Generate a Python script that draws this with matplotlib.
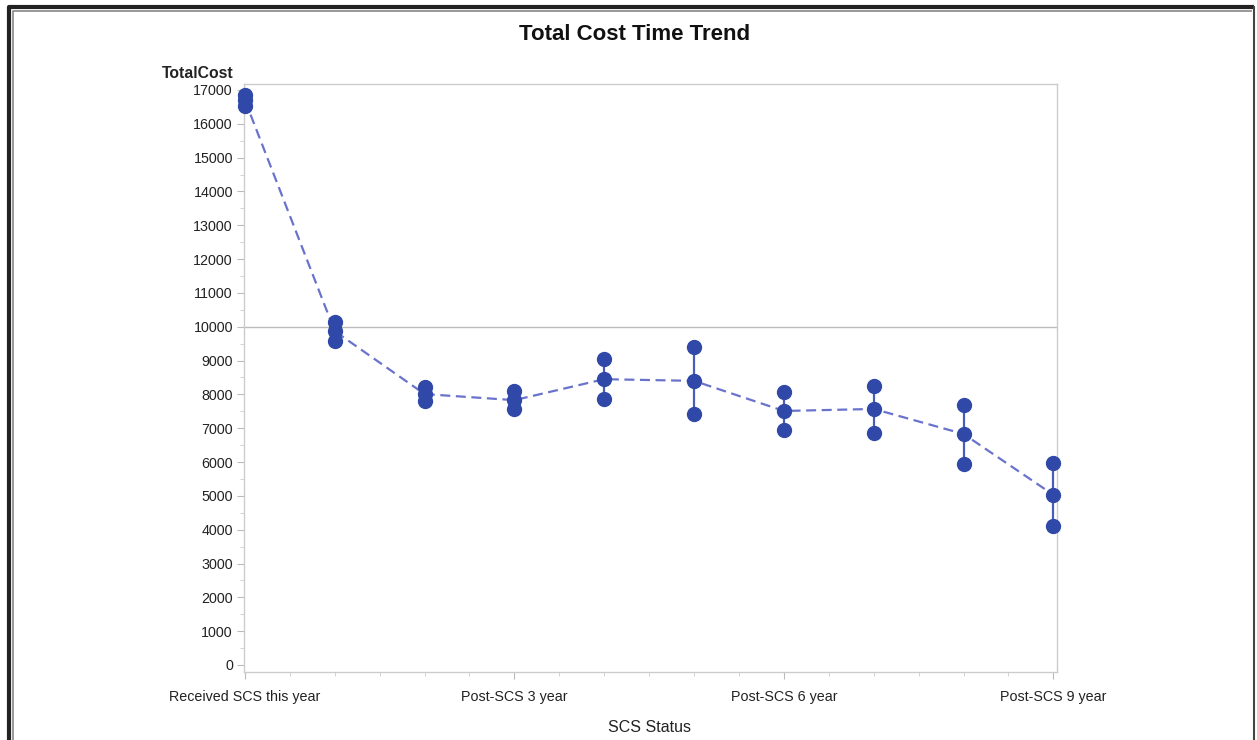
import numpy as np
import matplotlib
matplotlib.use("Agg")
import matplotlib.pyplot as plt
from matplotlib.ticker import MultipleLocator, FixedLocator
from matplotlib.lines import Line2D

plt.rcParams['font.family'] = ['Liberation Sans', 'DejaVu Sans']

# data
status = ["Received SCS this year", "", "", "Post-SCS 3 year", "", "",
          "Post-SCS 6 year", "", "", "Post-SCS 9 year"]
mean_cost = [16700, 9870, 8010, 7830, 8450, 8400, 7510, 7570, 6830, 5030]
low_cost = [16530, 9580, 7810, 7570, 7870, 7420, 6950, 6860, 5950, 4110]
high_cost = [16860, 10140, 8220, 8100, 9050, 9400, 8070, 8250, 7690, 5970]
ref_value = 10000

marker_col = '#3049A8'
line_col = '#6A73CC'

x = np.arange(len(mean_cost))

fig = plt.figure(figsize=(12.57, 7.40), dpi=100)
ax = fig.add_axes([244 / 1257, 1 - 672 / 740, (1057 - 244) / 1257, (672 - 84) / 740])

# error bars + markers
ax.vlines(x, low_cost, high_cost, color='#4A5DB8', lw=1.6, zorder=2)
ax.plot(x, mean_cost, ls=(0, (4.5, 2.5)), color=line_col, lw=1.6, zorder=2)
for vals in (low_cost, mean_cost, high_cost):
    ax.plot(x, vals, 'o', ms=10, color=marker_col, mec=marker_col, zorder=3, clip_on=False)

ax.axhline(ref_value, color='#BBBBBB', lw=1.0, zorder=1)

ax.set_xlim(-0.01, 9.04)
ax.set_ylim(-207, 17177)

ax.yaxis.set_major_locator(MultipleLocator(1000))
ax.yaxis.set_minor_locator(MultipleLocator(500))
ax.xaxis.set_major_locator(FixedLocator([0, 3, 6, 9]))
ax.xaxis.set_minor_locator(MultipleLocator(0.5))
ax.set_xticklabels([status[i] for i in (0, 3, 6, 9)])

for sp in ax.spines.values():
    sp.set_color('#CCCCCC')
    sp.set_linewidth(1.0)

ax.tick_params(axis='both', which='major', color='#BBBBBB', length=5, labelsize=10.3,
               labelcolor='#222222')
ax.tick_params(axis='both', which='minor', color='#CCCCCC', length=3)
ax.tick_params(axis='x', which='major', pad=8)
ax.tick_params(axis='y', which='major', pad=3)

fig.text(198 / 1257, 1 - 73 / 740, "TotalCost", ha='center', va='center',
         fontsize=11.3, fontweight='bold', color='#222222')
fig.text(650 / 1257, 1 - 727 / 740, "SCS Status", ha='center', va='center',
         fontsize=11.5, color='#222222')
fig.text(635 / 1257, 1 - 35 / 740, "Total Cost Time Trend", ha='center', va='center',
         fontsize=16, fontweight='bold', color='#111111')

# outer frame of the screenshot
def fline(xs, ys, **kw):
    fig.add_artist(Line2D([v / 1257 for v in xs], [1 - v / 740 for v in ys], **kw))

fline([9, 9, 1254], [745, 7, 7], color='#222222', lw=3.0, solid_capstyle='butt')
fline([13, 13, 1252], [745, 11, 11], color='#888888', lw=1.2, solid_capstyle='butt')
fline([1254, 1254], [7, 745], color='#444444', lw=1.5)

fig.savefig("out.png", dpi=100)
